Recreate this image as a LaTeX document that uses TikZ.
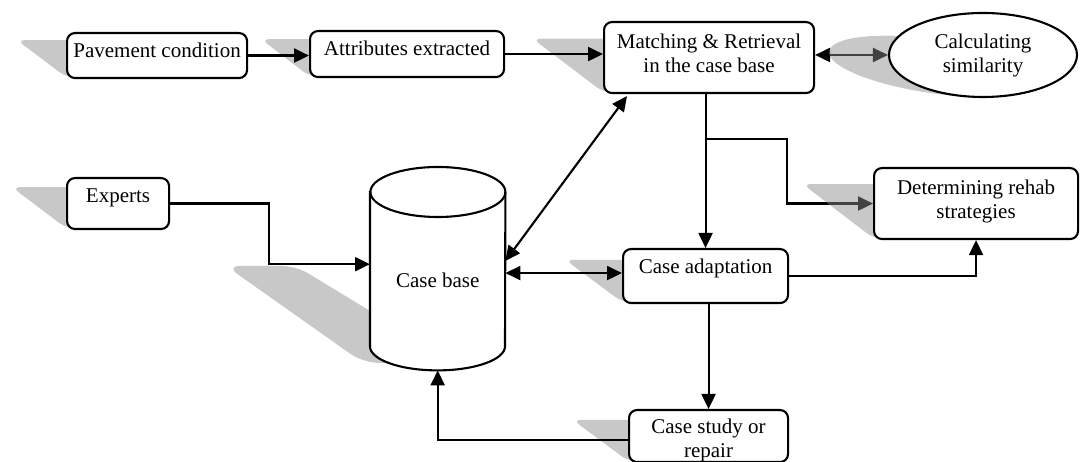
\documentclass[tikz,border=0pt]{standalone}
\usepackage{fontspec}
\setmainfont{Liberation Serif}
\usetikzlibrary{arrows.meta,shapes.geometric,calc}
\pgfdeclarelayer{under}
\pgfdeclarelayer{shade}
\pgfdeclarelayer{body}
\pgfsetlayers{under,shade,body,main}

% perspective shadow of a rounded box: x1, bottom y, x2, top y, squash, slant
\newcommand\boxshadow[6]{%
  \begin{scope}[yshift=#2pt, yscale=#5, xslant=-#6, yshift=-#2pt]
    \fill[shadowfill, rounded corners=8pt] (#1,#2) rectangle (#3,#4);
  \end{scope}}

\begin{document}
\begin{tikzpicture}[x=1pt, y=1pt,
  every node/.style={font=\fontsize{21}{24}\selectfont},
  stage/.style={draw, line width=2.1pt, rounded corners=8pt, fill=white,
    inner sep=0pt, align=center, anchor=north west},
  link/.style={line width=2.1pt, -{Triangle[length=15pt,width=14pt]}},
  twoway/.style={line width=2.1pt,
    {Triangle[length=15pt,width=14pt]}-{Triangle[length=15pt,width=14pt]}},
  shadowfill/.style={fill=black!45, fill opacity=0.48},
]
\useasboundingbox (0,0) rectangle (1080,462);

% process steps (the box depth sets the room under the text)
\node[stage, minimum width=180pt, text height=24pt, text depth=21pt] (pav) at (66,430) {Pavement condition};
\node[stage, minimum width=194pt, text height=24pt, text depth=22pt] (att) at (309,432) {Attributes extracted};
\node[stage, minimum width=210pt, text height=50pt, text depth=21pt] (mat) at (603,441) {Matching \& Retrieval\\in the case base};
\node[draw, ellipse, line width=2.1pt, fill=white, minimum width=188pt, minimum height=84pt,
  inner sep=0pt, align=center] (ell) at (983,407) {Calculating\\similarity};
\node[stage, minimum width=102pt, text height=24pt, text depth=27pt] (exp) at (66,285) {Experts};
\node[inner sep=0pt, minimum width=135pt, text height=120pt, text depth=83pt, anchor=north west] (cyl) at (370,295) {Case base};
\node[stage, minimum width=165pt, text height=24pt, text depth=30pt] (ca) at (622,214) {Case adaptation};
\node[stage, minimum width=204pt, text height=50pt, text depth=21pt] (det) at (873,295) {Determining rehab\\strategies};
\node[stage, minimum width=159pt, text height=47pt, text depth=5pt] (cs) at (628,53) {Case study or\\repair};

% the case base drum
\begin{pgfonlayer}{body}
  \draw[line width=2.1pt, fill=white]
    ($(cyl.north west)+(0,-25)$) -- ($(cyl.south west)+(0,24)$)
    arc[start angle=180, end angle=360, x radius=67.5, y radius=24]
    -- ($(cyl.north east)+(0,-25)$)
    arc[start angle=0, end angle=180, x radius=67.5, y radius=25] -- cycle;
  \draw[line width=2.1pt] ($(cyl.north east)+(0,-25)$)
    arc[start angle=0, end angle=-180, x radius=67.5, y radius=25];
\end{pgfonlayer}

% shadows
\begin{pgfonlayer}{shade}
  \boxshadow{66}{385}{246}{430}{0.82}{1.09}
  \boxshadow{309}{386}{503}{432}{0.8}{1.04}
  \boxshadow{603}{370}{813}{441}{0.75}{0.99}
  \boxshadow{66}{234}{168}{285}{0.8}{1.06}
  \boxshadow{622}{160}{787}{214}{0.78}{1.05}
  \boxshadow{873}{224}{1077}{295}{0.76}{0.99}
  \boxshadow{628}{1}{787}{53}{0.79}{1.06}
  \begin{scope}[yshift=365pt, yscale=0.73, xslant=-1.15, yshift=-365pt]
    \fill[shadowfill] (983,407) ellipse[x radius=94, y radius=42];
  \end{scope}
  \fill[shadowfill, rounded corners=14pt]
    (226,196) -- (296,196) -- (380,145) -- (400,98) -- (362,100) -- cycle;
\end{pgfonlayer}

% connectors passing beneath the shadows
\coordinate (br) at (ca.north |- 0,323);
\begin{pgfonlayer}{under}
  \draw[twoway] (mat.east |- ell.west) -- (ell.west);
  \draw[link] (br) -| ([xshift=-86pt]det.west) -- (det.west);
\end{pgfonlayer}

% connectors
\coordinate (caw) at ([yshift=3pt]ca.west);
\draw[link] (pav.east) -- (att.west |- pav.east);
\draw[link] (att.east) -- (mat.west |- att.east);
\draw[link] (ca.north |- mat.south) -- (ca.north);
\draw[twoway] ($(cyl.north east)+(0,-94)$) -- ($(mat.south west)+(24,-2)$);
\draw[twoway] (caw) -- (cyl.east |- caw);
\draw[link] (ca.east) -| (det.south);
\draw[link] (ca.south -| cs.north) -- (cs.north);
\draw[link] ([yshift=-4pt]cs.west) -| (cyl.south);
\draw[link] (exp.east) -| ([xshift=-101pt,yshift=4.5pt]cyl.west) -- ([yshift=4.5pt]cyl.west);
\end{tikzpicture}
\end{document}
